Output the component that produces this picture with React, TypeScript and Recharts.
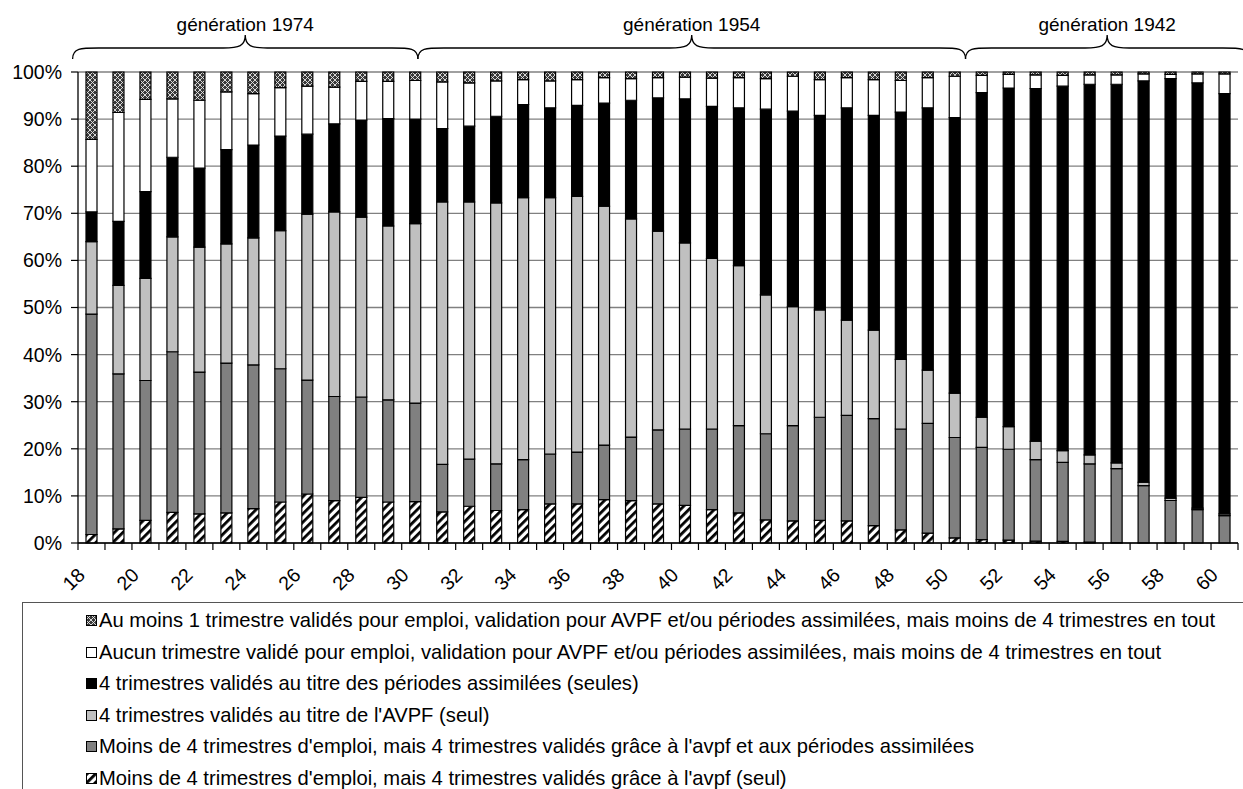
import React from "react";
import { BarChart, Bar, XAxis, YAxis, CartesianGrid } from "recharts";

const AGES = [
  "18", "19", "20", "21", "22", "23", "24", "25", "26", "27", "28", "29", "30",
  "31", "32", "33", "34", "35", "36", "37", "38", "39", "40", "41", "42", "43", "44",
  "45", "46", "47", "48", "49", "50", "51", "52", "53", "54", "55", "56", "57", "58", "59", "60",
];

// bottom of the stack first
const AVPF_SEUL_EMPLOI = [
  1.8, 3.0, 4.8, 6.5, 6.2, 6.4, 7.3, 8.7, 10.4, 9.0, 9.7, 8.7, 8.8,
  6.6, 7.8, 6.9, 7.1, 8.3, 8.3, 9.2, 9.0, 8.3, 8.0, 7.1, 6.4, 4.9, 4.7,
  4.8, 4.7, 3.7, 2.8, 2.1, 1.1, 0.7, 0.6, 0.4, 0.35, 0.2, 0.1, 0.05, 0.03, 0, 0,
];
const AVPF_PA_EMPLOI = [
  46.8, 32.9, 29.7, 34.1, 30.1, 31.8, 30.5, 28.3, 24.2, 22.1, 21.3, 21.7, 20.9,
  10.1, 10.0, 9.9, 10.6, 10.6, 11.0, 11.6, 13.5, 15.7, 16.2, 17.1, 18.5, 18.3, 20.2,
  21.9, 22.4, 22.7, 21.4, 23.3, 21.3, 19.6, 19.3, 17.3, 16.75, 16.6, 15.7, 12.15, 9.0, 7.1, 5.8,
];
const AVPF_SEUL = [
  15.4, 18.8, 21.7, 24.4, 26.5, 25.3, 27.0, 29.3, 35.2, 39.2, 38.2, 36.9, 38.1,
  55.7, 54.6, 55.4, 55.6, 54.4, 54.3, 50.7, 46.3, 42.2, 39.5, 36.2, 34.0, 29.5, 25.3,
  22.8, 20.2, 18.8, 14.8, 11.3, 9.4, 6.4, 4.8, 3.9, 2.5, 1.9, 1.2, 0.7, 0.5, 0.3, 0.4,
];
const PA_SEULES = [
  6.3, 13.6, 18.4, 16.9, 16.8, 20.0, 19.7, 20.1, 17.0, 18.7, 20.6, 22.8, 22.2,
  15.6, 16.1, 18.4, 19.8, 19.1, 19.3, 21.9, 25.2, 28.3, 30.6, 32.3, 33.5, 39.4, 41.5,
  41.3, 45.1, 45.6, 52.5, 55.7, 58.5, 68.9, 71.9, 74.9, 77.4, 78.7, 80.4, 85.2, 89.1, 90.3, 89.2,
];
const AUCUN = [
  15.4, 23.1, 19.6, 12.4, 14.4, 12.3, 10.9, 10.3, 10.2, 7.8, 8.2, 7.9, 8.2,
  9.9, 9.2, 7.5, 5.3, 5.7, 5.5, 5.4, 4.6, 4.3, 4.6, 6.0, 6.4, 6.5, 7.4,
  7.6, 6.4, 7.6, 6.7, 6.4, 8.8, 3.7, 2.9, 2.9, 2.3, 2.0, 2.0, 1.5, 0.9, 1.9, 4.2,
];
const AU_MOINS_1 = [
  14.3, 8.6, 5.8, 5.7, 6.0, 4.2, 4.6, 3.3, 3.0, 3.2, 2.0, 2.0, 1.8,
  2.1, 2.3, 1.9, 1.6, 1.9, 1.6, 1.2, 1.4, 1.2, 1.1, 1.3, 1.2, 1.4, 0.9,
  1.6, 1.2, 1.6, 1.8, 1.2, 0.9, 0.7, 0.5, 0.6, 0.7, 0.6, 0.6, 0.4, 0.5, 0.4, 0.4,
];

const SERIES = [
  { key: "s1", values: AVPF_SEUL_EMPLOI, fill: "url(#hatch)", icon: "hatch", name: "Moins de 4 trimestres d'emploi, mais 4 trimestres validés grâce à l'avpf (seul)" },
  { key: "s2", values: AVPF_PA_EMPLOI, fill: "#808080", icon: "#808080", name: "Moins de 4 trimestres d'emploi, mais 4 trimestres validés grâce à l'avpf et aux périodes assimilées" },
  { key: "s3", values: AVPF_SEUL, fill: "#c0c0c0", icon: "#c0c0c0", name: "4 trimestres validés au titre de l'AVPF (seul)" },
  { key: "s4", values: PA_SEULES, fill: "#000000", icon: "#000000", name: "4 trimestres validés au titre des périodes assimilées (seules)" },
  { key: "s5", values: AUCUN, fill: "#ffffff", icon: "#ffffff", name: "Aucun trimestre validé pour emploi, validation pour AVPF et/ou périodes assimilées, mais moins de 4 trimestres en tout" },
  { key: "s6", values: AU_MOINS_1, fill: "url(#cross)", icon: "cross", name: "Au moins 1 trimestre validés pour emploi, validation pour AVPF et/ou périodes assimilées, mais moins de 4 trimestres en tout" },
];

const GENERATIONS = [
  { label: "génération 1974", from: -0.2, to: 12.6 },
  { label: "génération 1954", from: 12.6, to: 32.9 },
  { label: "génération 1942", from: 32.9, to: 43.4 },
];

const Y_TICKS = [0, 0.1, 0.2, 0.3, 0.4, 0.5, 0.6, 0.7, 0.8, 0.9, 1];

const W = 1243;
const H = 789;
const PLOT_LEFT = 78;
const PLOT_RIGHT = 1238;
const PLOT_TOP = 72;
const PLOT_BOTTOM = 543;
const BAND = (PLOT_RIGHT - PLOT_LEFT) / AGES.length;
const FONT = "'Liberation Sans', Arial, Helvetica, sans-serif";

const data = AGES.map((age, i) => {
  const row: any = { age };
  SERIES.forEach((s) => (row[s.key] = s.values[i]));
  return row;
});

function AgeTick(props: any) {
  const { x, y, payload, index } = props;
  const even = Number(payload.value) % 2 === 0;
  return (
    <g>
      <line x1={x - BAND / 2} x2={x - BAND / 2} y1={y} y2={y + 7} stroke="#000" strokeWidth={1.2} />
      {index === AGES.length - 1 && (
        <line x1={x + BAND / 2} x2={x + BAND / 2} y1={y} y2={y + 7} stroke="#000" strokeWidth={1.2} />
      )}
      {even && (
        <text
          transform={`translate(${x - 18},${y + 36}) rotate(-45)`}
          textAnchor="middle"
          dominantBaseline="central"
          fontSize={19.5}
          fontFamily={FONT}
          fill="#000"
        >
          {payload.value}
        </text>
      )}
    </g>
  );
}

function Patterns({ prefix }: { prefix: string }) {
  return (
    <defs>
      <pattern id={`${prefix}hatch`} patternUnits="userSpaceOnUse" width={6} height={6} patternTransform="rotate(45)">
        <rect width={6} height={6} fill="#fff" />
        <rect width={2.8} height={6} fill="#000" />
      </pattern>
      <pattern id={`${prefix}cross`} patternUnits="userSpaceOnUse" width={5} height={5}>
        <rect width={5} height={5} fill="#3a3a3a" />
        <path d="M0 0L5 5M5 0L0 5" stroke="#e8e8e8" strokeWidth={0.9} />
      </pattern>
    </defs>
  );
}

function bracePath(x1: number, x2: number) {
  const m = (x1 + x2) / 2;
  const yEnd = 59;
  const yMid = 48;
  const yPeak = 35;
  return [
    `M${x1},${yEnd}`,
    `C${x1},${yMid} ${x1 + 8},${yMid} ${x1 + 26},${yMid}`,
    `L${m - 22},${yMid}`,
    `C${m - 6},${yMid} ${m},${yMid - 2} ${m},${yPeak}`,
    `C${m},${yMid - 2} ${m + 6},${yMid} ${m + 22},${yMid}`,
    `L${x2 - 26},${yMid}`,
    `C${x2 - 8},${yMid} ${x2},${yMid} ${x2},${yEnd}`,
  ].join(" ");
}

function Braces() {
  return (
    <svg width={W} height={H} style={{ position: "absolute", left: 0, top: 0, pointerEvents: "none" }}>
      {GENERATIONS.map((g) => {
        const x1 = PLOT_LEFT + g.from * BAND;
        const x2 = PLOT_LEFT + g.to * BAND;
        return (
          <g key={g.label}>
            <path d={bracePath(x1, x2)} fill="none" stroke="#000" strokeWidth={1.3} />
            <text x={(x1 + x2) / 2} y={31} textAnchor="middle" fontSize={19} fontFamily={FONT} fill="#000">
              {g.label}
            </text>
          </g>
        );
      })}
    </svg>
  );
}

function LegendBox() {
  const items = [...SERIES].reverse();
  return (
    <div
      style={{
        position: "absolute",
        left: 22,
        top: 602,
        width: W,
        height: 220,
        borderLeft: "1.5px solid #555",
        borderTop: "1.5px solid #555",
        paddingTop: 2,
        fontFamily: FONT,
        fontSize: 20.2,
        color: "#000",
        boxSizing: "border-box",
      }}
    >
      {items.map((s) => (
        <div key={s.key} style={{ height: 31.5, display: "flex", alignItems: "center", paddingLeft: 63 }}>
          <svg width={11} height={11} style={{ marginRight: 2, flex: "none" }}>
            <Patterns prefix={`lg-${s.key}-`} />
            <rect
              x={0.5}
              y={0.5}
              width={10}
              height={10}
              fill={s.icon === "hatch" || s.icon === "cross" ? `url(#lg-${s.key}-${s.icon})` : s.icon}
              stroke="#000"
              strokeWidth={1}
            />
          </svg>
          <span style={{ whiteSpace: "nowrap" }}>{s.name}</span>
        </div>
      ))}
    </div>
  );
}

export default function App() {
  return (
    <div style={{ position: "absolute", left: 0, top: 0, width: W, height: H, background: "#fff", overflow: "hidden" }}>
      <BarChart
        width={W}
        height={H}
        data={data}
        stackOffset="expand"
        margin={{ top: PLOT_TOP, right: W - PLOT_RIGHT, left: 0, bottom: H - PLOT_BOTTOM - 60 }}
      >
        <Patterns prefix="" />
        <CartesianGrid vertical={false} stroke="#808080" strokeWidth={1.3} />
        <XAxis
          dataKey="age"
          interval={0}
          height={60}
          tickLine={false}
          tickSize={0}
          tickMargin={0}
          axisLine={{ stroke: "#000", strokeWidth: 1.3 }}
          tick={<AgeTick />}
        />
        <YAxis
          width={PLOT_LEFT}
          domain={[0, 1]}
          ticks={Y_TICKS}
          tickFormatter={(v: number) => `${Math.round(v * 100)}%`}
          axisLine={{ stroke: "#000", strokeWidth: 1.3 }}
          tickLine={{ stroke: "#000", strokeWidth: 1.2 }}
          tickSize={7}
          tickMargin={9}
          tick={{ fill: "#000", fontSize: 19.5, fontFamily: FONT }}
        />
        {SERIES.map((s) => (
          <Bar
            key={s.key}
            dataKey={s.key}
            stackId="a"
            fill={s.fill}
            stroke="#000"
            strokeWidth={1.2}
            barSize={11}
            isAnimationActive={false}
          />
        ))}
      </BarChart>
      <Braces />
      <LegendBox />
    </div>
  );
}
